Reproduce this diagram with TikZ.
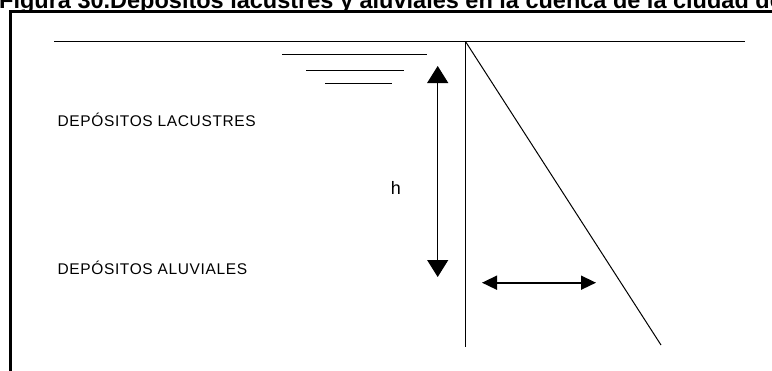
\documentclass[tikz,border=0pt]{standalone}
\usepackage{fontspec}
\setmainfont{Liberation Sans}
\usetikzlibrary{arrows.meta}

\begin{document}
\begin{tikzpicture}[x=1pt,y=-1pt,>={Triangle[length=17pt,width=21pt]},
    rotulo/.style={anchor=base west,inner sep=0pt,font=\fontsize{15.5}{15.5}\selectfont\addfontfeatures{LetterSpace=4}}]
        \useasboundingbox (0,0) rectangle (772,370);
        \clip (0,0) rectangle (772,370);
        % titulo, cortado arriba
        \node[anchor=base west,inner sep=0pt,font=\bfseries\fontsize{23.5}{23.5}\selectfont] (titulo) at (-1,8) {Figura 30.Depósitos lacustres y aluviales en la cuenca de la ciudad de};
        % marco
        \draw[line width=3pt] (10.5,380) -- (10.5,11) -- (790,11);
        % superficie del terreno
        \coordinate (sueloA) at (54,41.5);
        \coordinate (sueloB) at (745,41.5);
        \coordinate (cabeza) at (465.5,41.5);
        \draw[line width=1.6pt] (sueloA) -- (sueloB);
        % nivel freatico
        \draw[line width=1pt] (282,54.7) -- (427,54.7);
        \draw[line width=1pt] (306,70) -- (404,70);
        \draw[line width=1pt] (325,83.3) -- (392,83.3);
        % profundidad h
        \coordinate (hsup) at (437.7,66);
        \coordinate (hinf) at (437.7,277);
        \draw[<->,line width=1pt] (hsup) -- (hinf);
        \node[anchor=base,inner sep=0pt,font=\fontsize{18}{18}\selectfont] (h) at (396,194) {h};
        % diagrama
        \coordinate (pie) at (465.5,347);
        \coordinate (punta) at (661,345);
        \draw[line width=1pt] (cabeza) -- (pie);
        \draw[line width=1pt] (cabeza) -- (punta);
        \coordinate (izq) at (482,282.7);
        \coordinate (der) at (596,282.7);
        \draw[{Triangle[length=15pt,width=14pt]}-{Triangle[length=15pt,width=14pt]},line width=1.6pt] (izq) -- (der);
        % rotulos
        \node[rotulo] (lacustres) at (57.5,126.5) {DEPÓSITOS LACUSTRES};
        \node[rotulo] (aluviales) at (57.5,274) {DEPÓSITOS ALUVIALES};
    \end{tikzpicture}
\end{document}
